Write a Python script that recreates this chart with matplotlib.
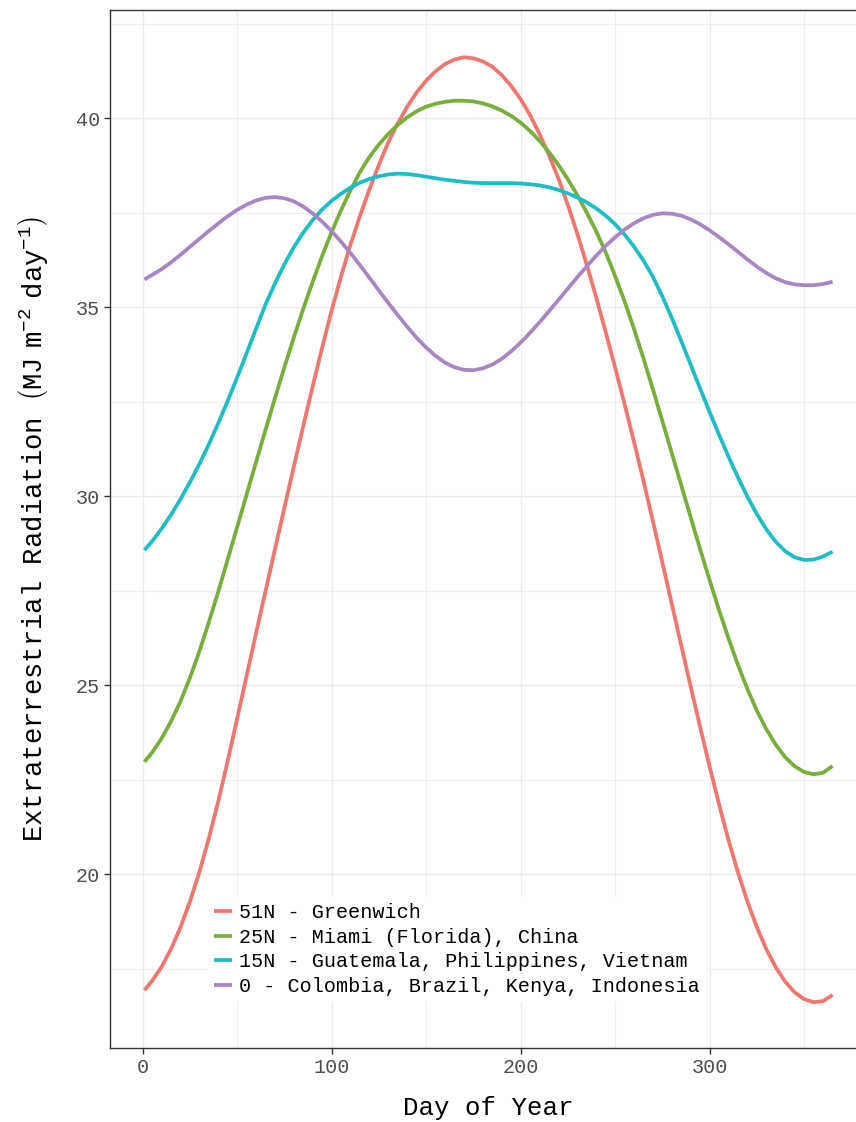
import numpy as np
import matplotlib
matplotlib.use("Agg")
import matplotlib.pyplot as plt
from matplotlib.ticker import MultipleLocator

# values, one per grid day (every 5 days)
days = [1] + list(range(5, 366, 5))

ra_51n = [16.93, 17.17, 17.54, 18.01, 18.58, 19.26, 20.04, 20.93, 21.91, 22.98,
          24.10, 25.23, 26.36, 27.47, 28.58, 29.68, 30.77, 31.85, 32.90, 33.92,
          34.90, 35.81, 36.65, 37.41, 38.11, 38.76, 39.36, 39.86, 40.30, 40.68,
          40.99, 41.24, 41.43, 41.55, 41.61, 41.58, 41.50, 41.36, 41.14, 40.85,
          40.50, 40.08, 39.58, 39.02, 38.40, 37.70, 36.94, 36.12, 35.25, 34.34,
          33.40, 32.43, 31.43, 30.40, 29.33, 28.24, 27.14, 26.04, 24.95, 23.88,
          22.84, 21.84, 20.89, 20.04, 19.27, 18.59, 18.01, 17.53, 17.15, 16.87,
          16.69, 16.61, 16.64, 16.80]

ra_25n = [22.97, 23.21, 23.58, 24.03, 24.56, 25.18, 25.88, 26.65, 27.46, 28.31,
          29.17, 30.03, 30.89, 31.74, 32.58, 33.40, 34.19, 34.95, 35.67, 36.35,
          36.98, 37.56, 38.09, 38.57, 38.97, 39.30, 39.58, 39.82, 40.02, 40.18,
          40.30, 40.38, 40.43, 40.46, 40.46, 40.44, 40.39, 40.31, 40.20, 40.06,
          39.88, 39.66, 39.40, 39.10, 38.76, 38.38, 37.96, 37.50, 37.00, 36.45,
          35.82, 35.15, 34.42, 33.64, 32.82, 31.98, 31.13, 30.28, 29.43, 28.59,
          27.77, 26.98, 26.23, 25.53, 24.89, 24.32, 23.83, 23.42, 23.09, 22.85,
          22.70, 22.64, 22.68, 22.86]

ra_15n = [28.57, 28.80, 29.13, 29.50, 29.91, 30.36, 30.84, 31.36, 31.92, 32.51,
          33.13, 33.77, 34.42, 35.06, 35.62, 36.13, 36.58, 36.97, 37.30, 37.58,
          37.81, 38.00, 38.16, 38.29, 38.39, 38.46, 38.51, 38.53, 38.52, 38.49,
          38.45, 38.41, 38.37, 38.34, 38.31, 38.29, 38.28, 38.28, 38.28, 38.28,
          38.27, 38.25, 38.22, 38.17, 38.10, 38.01, 37.90, 37.77, 37.61, 37.42,
          37.19, 36.92, 36.60, 36.23, 35.80, 35.28, 34.71, 34.10, 33.47, 32.84,
          32.22, 31.62, 31.04, 30.49, 29.98, 29.52, 29.12, 28.79, 28.54, 28.38,
          28.31, 28.32, 28.40, 28.53]

ra_0 = [35.73, 35.85, 36.00, 36.18, 36.38, 36.59, 36.80, 37.01, 37.21, 37.40,
        37.57, 37.71, 37.82, 37.89, 37.91, 37.88, 37.80, 37.66, 37.48, 37.26,
        37.01, 36.73, 36.43, 36.11, 35.78, 35.44, 35.11, 34.79, 34.48, 34.19,
        33.93, 33.71, 33.53, 33.41, 33.34, 33.33, 33.38, 33.48, 33.63, 33.83,
        34.06, 34.32, 34.60, 34.89, 35.19, 35.49, 35.79, 36.08, 36.36, 36.62,
        36.85, 37.05, 37.22, 37.35, 37.44, 37.48, 37.47, 37.42, 37.32, 37.19,
        37.03, 36.85, 36.66, 36.46, 36.26, 36.07, 35.90, 35.76, 35.66, 35.60,
        35.58, 35.58, 35.61, 35.67]

labels = ["51N - Greenwich",
          "25N - Miami (Florida), China",
          "15N - Guatemala, Philippines, Vietnam",
          "0 - Colombia, Brazil, Kenya, Indonesia"]
colors = ["#F0766F", "#79AD3C", "#1DBDC5", "#A786C2"]

MONO = "Liberation Mono"
plt.rcParams["font.family"] = [MONO, "DejaVu Sans"]
plt.rcParams["mathtext.fontset"] = "custom"
plt.rcParams["mathtext.rm"] = MONO
plt.rcParams["mathtext.it"] = MONO
plt.rcParams["mathtext.tt"] = MONO

fig = plt.figure(figsize=(8.56, 11.22), dpi=100)
# panel runs past the right edge of the picture, as in the reference
ax = fig.add_axes([0.1285, 0.066, 0.8843, 0.9251])

for series, lab, col in zip([ra_51n, ra_25n, ra_15n, ra_0], labels, colors):
    ax.plot(days, series, color=col, lw=2.7, label=lab,
            solid_capstyle="butt", solid_joinstyle="round", zorder=3)

ax.set_xlim(-17.2, 383.2)
ax.set_ylim(15.40, 42.86)
ax.xaxis.set_major_locator(MultipleLocator(100))
ax.xaxis.set_minor_locator(MultipleLocator(50))
ax.yaxis.set_major_locator(MultipleLocator(5))
ax.yaxis.set_minor_locator(MultipleLocator(2.5))

ax.set_axisbelow(True)
ax.grid(which="major", color="#EBEBEB", lw=1.0)
ax.grid(which="minor", color="#EFEFEF", lw=0.8)

for sp in ax.spines.values():
    sp.set_color("#333333")
    sp.set_linewidth(1.0)

ax.tick_params(which="major", direction="out", length=4, width=1, color="#333333",
               labelcolor="#4D4D4D", labelsize=14.5, pad=3)
ax.tick_params(which="minor", length=0)

ax.set_xlabel("Day of Year", fontsize=18.5, labelpad=14)
ax.set_ylabel("Extraterrestrial Radiation " +
              r"$\left(\mathrm{MJ\;\;m^{-2}\;\;day^{-1}}\right)$",
              fontsize=19.6, labelpad=19)

leg = ax.legend(loc="lower left", bbox_to_anchor=(0.1294, 0.044), borderaxespad=0,
                frameon=True, fancybox=False, framealpha=1, facecolor="white",
                edgecolor="none", handlelength=0.9, handletextpad=0.35,
                borderpad=0.3, labelspacing=0.29, prop={"family": MONO, "size": 14.5})
for h in leg.get_lines():
    h.set_linewidth(2.7)

fig.savefig("out.png", dpi=100)
